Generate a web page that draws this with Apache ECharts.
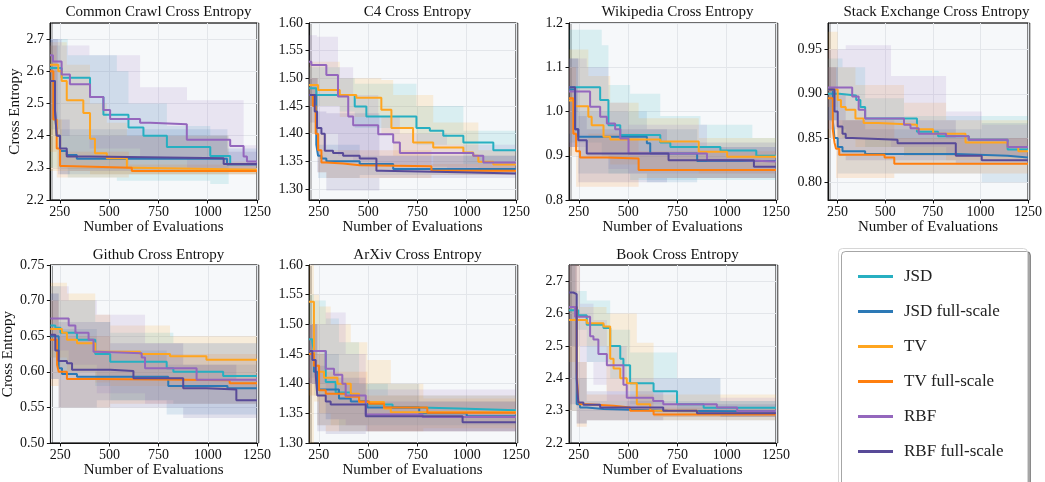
<!DOCTYPE html>
<html lang="en">
<head>
  <meta charset="UTF-8">
  <title>Cross Entropy vs Number of Evaluations</title>
  <script src="https://cdn.jsdelivr.net/npm/echarts@6/dist/echarts.min.js"></script>
  <style>
    html, body { margin: 0; background: #fff; }
    #main { width: 1045px; height: 482px; }
  </style>
</head>
<body>
<div id="main"></div>
<script>

  var methods = ['JSD', 'JSD full-scale', 'TV', 'TV full-scale', 'RBF', 'RBF full-scale'];
  var colors = ['#27afc1', '#2c79b6', '#ffa51f', '#ff7f0e', '#9467bd', '#584a98'];
  var panelTitles = ['Common Crawl Cross Entropy', 'C4 Cross Entropy', 'Wikipedia Cross Entropy',
    'Stack Exchange Cross Entropy', 'Github Cross Entropy', 'ArXiv Cross Entropy', 'Book Cross Entropy'];
  var xTicks = [250, 500, 750, 1000, 1250];
  var yMin = [2.2, 1.28, 0.8, 0.78, 0.5, 1.3, 2.2];
  var yMax = [2.75, 1.6, 1.2, 0.98, 0.75, 1.6, 2.75];
  var yTicks = [
    [2.2, 2.3, 2.4, 2.5, 2.6, 2.7],
    [1.30, 1.35, 1.40, 1.45, 1.50, 1.55, 1.60],
    [0.8, 0.9, 1.0, 1.1, 1.2],
    [0.80, 0.85, 0.90, 0.95],
    [0.50, 0.55, 0.60, 0.65, 0.70, 0.75],
    [1.30, 1.35, 1.40, 1.45, 1.50, 1.55, 1.60],
    [2.2, 2.3, 2.4, 2.5, 2.6, 2.7]
  ];
  var yDecimals = [1, 2, 1, 2, 2, 2, 1];

  // lines: [evaluations, mean], bands: [evaluations, low, high] (step-post)
  // Common Crawl
  var ccJSD = [[200, 2.61], [259, 2.58], [403, 2.52], [471, 2.465], [598, 2.425], [674, 2.40], [793, 2.365], [1013, 2.337], [1114, 2.312], [1250, 2.312]];
  var ccJSDfull = [[200, 2.57], [225, 2.48], [234, 2.40], [251, 2.352], [285, 2.34], [336, 2.328], [1098, 2.31], [1250, 2.31]];
  var ccTV = [[200, 2.62], [242, 2.60], [259, 2.57], [285, 2.51], [369, 2.47], [403, 2.39], [428, 2.345], [488, 2.33], [590, 2.30], [623, 2.294], [1250, 2.294]];
  var ccTVfull = [[200, 2.60], [217, 2.45], [234, 2.36], [251, 2.306], [268, 2.30], [615, 2.29], [1250, 2.29]];
  var ccRBF = [[200, 2.65], [215, 2.63], [259, 2.59], [301, 2.56], [403, 2.52], [471, 2.48], [505, 2.452], [657, 2.44], [708, 2.435], [894, 2.387], [1114, 2.368], [1182, 2.335], [1199, 2.32], [1250, 2.32]];
  var ccRBFfull = [[200, 2.57], [225, 2.48], [234, 2.40], [251, 2.36], [285, 2.335], [400, 2.33], [1081, 2.312], [1250, 2.312]];
  var ccJSDband = [[200, 2.30, 2.70], [290, 2.27, 2.65], [539, 2.26, 2.60], [598, 2.26, 2.50], [793, 2.26, 2.43], [1013, 2.25, 2.40], [1106, 2.25, 2.40]];
  var ccJSDfullBand = [[200, 2.42, 2.68], [251, 2.28, 2.42], [1100, 2.28, 2.36], [1250, 2.28, 2.36]];
  var ccTVband = [[200, 2.29, 2.69], [285, 2.29, 2.62], [403, 2.28, 2.50], [488, 2.28, 2.44], [590, 2.28, 2.40], [1106, 2.28, 2.32], [1250, 2.28, 2.32]];
  var ccTVfullBand = [[200, 2.35, 2.68], [234, 2.27, 2.45], [260, 2.27, 2.35], [600, 2.28, 2.31], [1250, 2.28, 2.31]];
  var ccRBFband = [[200, 2.45, 2.70], [260, 2.40, 2.68], [400, 2.36, 2.65], [657, 2.33, 2.55], [895, 2.30, 2.51], [1182, 2.30, 2.37], [1250, 2.30, 2.37]];
  var ccRBFfullBand = [[200, 2.45, 2.70], [240, 2.28, 2.45], [300, 2.29, 2.40], [1100, 2.29, 2.35], [1250, 2.29, 2.35]];

  // C4
  var c4JSD = [[200, 1.482], [237, 1.47], [432, 1.449], [491, 1.431], [745, 1.41], [813, 1.405], [881, 1.396], [983, 1.384], [1135, 1.37], [1250, 1.37]];
  var c4JSDfull = [[200, 1.47], [237, 1.38], [246, 1.36], [263, 1.355], [288, 1.35], [457, 1.345], [627, 1.336], [1250, 1.336]];
  var c4TV = [[200, 1.488], [246, 1.479], [356, 1.47], [440, 1.465], [567, 1.443], [618, 1.41], [728, 1.384], [830, 1.375], [983, 1.366], [1033, 1.36], [1059, 1.349], [1135, 1.344], [1250, 1.344]];
  var c4TVfull = [[200, 1.47], [220, 1.45], [234, 1.40], [246, 1.37], [263, 1.348], [288, 1.346], [373, 1.343], [457, 1.341], [821, 1.333], [1250, 1.333]];
  var c4RBF = [[200, 1.53], [212, 1.524], [288, 1.506], [347, 1.467], [399, 1.431], [424, 1.415], [551, 1.399], [627, 1.384], [661, 1.365], [1033, 1.36], [1084, 1.348], [1250, 1.348]];
  var c4RBFfull = [[200, 1.47], [229, 1.44], [241, 1.41], [263, 1.40], [280, 1.369], [322, 1.365], [373, 1.36], [457, 1.355], [542, 1.333], [567, 1.33], [965, 1.328], [1250, 1.328]];
  var c4JSDband = [[200, 1.45, 1.52], [356, 1.44, 1.50], [432, 1.41, 1.49], [745, 1.38, 1.45], [983, 1.345, 1.405], [1250, 1.345, 1.405]];
  var c4JSDfullBand = [[200, 1.40, 1.50], [246, 1.32, 1.38], [457, 1.325, 1.36], [1250, 1.325, 1.36]];
  var c4TVband = [[200, 1.45, 1.53], [356, 1.43, 1.50], [567, 1.40, 1.497], [627, 1.36, 1.47], [830, 1.34, 1.42], [1059, 1.33, 1.37], [1250, 1.33, 1.37]];
  var c4TVfullBand = [[200, 1.40, 1.50], [246, 1.33, 1.40], [288, 1.32, 1.37], [821, 1.325, 1.345], [1250, 1.325, 1.345]];
  var c4RBFband = [[200, 1.45, 1.578], [240, 1.40, 1.575], [347, 1.36, 1.52], [424, 1.35, 1.47], [551, 1.345, 1.43], [661, 1.34, 1.40], [900, 1.335, 1.38], [1250, 1.335, 1.38]];
  var c4RBFfullBand = [[200, 1.42, 1.50], [241, 1.33, 1.44], [288, 1.297, 1.437], [557, 1.32, 1.36], [1250, 1.32, 1.36]];

  // Wikipedia
  var wkJSD = [[200, 1.055], [358, 1.026], [400, 0.969], [460, 0.947], [663, 0.93], [714, 0.92], [968, 0.912], [1150, 0.90], [1250, 0.90]];
  var wkJSDfull = [[200, 1.05], [231, 0.96], [247, 0.943], [595, 0.928], [612, 0.905], [850, 0.888], [1250, 0.888]];
  var wkTV = [[200, 1.025], [231, 1.012], [298, 0.988], [315, 0.969], [375, 0.943], [409, 0.937], [663, 0.932], [858, 0.909], [1002, 0.898], [1250, 0.898]];
  var wkTVfull = [[200, 1.03], [222, 0.95], [236, 0.91], [256, 0.896], [392, 0.894], [553, 0.868], [1250, 0.868]];
  var wkRBF = [[200, 1.045], [307, 1.011], [358, 0.988], [392, 0.973], [434, 0.96], [460, 0.939], [502, 0.905], [900, 0.89], [1070, 0.887], [1250, 0.887]];
  var wkRBFfull = [[200, 1.055], [231, 0.96], [247, 0.935], [290, 0.905], [705, 0.89], [1138, 0.875], [1250, 0.875]];
  var wkJSDband = [[200, 0.93, 1.185], [366, 0.90, 1.15], [400, 0.86, 1.06], [510, 0.845, 1.04], [663, 0.845, 0.99], [867, 0.845, 0.97], [1130, 0.845, 0.94], [1250, 0.845, 0.94]];
  var wkJSDfullBand = [[200, 0.92, 1.12], [247, 0.86, 1.00], [595, 0.84, 0.96], [850, 0.85, 0.92], [1250, 0.85, 0.92]];
  var wkTVband = [[200, 0.95, 1.14], [298, 0.90, 1.08], [409, 0.88, 1.02], [553, 0.87, 0.985], [858, 0.86, 0.94], [1250, 0.86, 0.94]];
  var wkTVfullBand = [[200, 0.90, 1.10], [236, 0.83, 0.95], [553, 0.85, 0.91], [1250, 0.85, 0.91]];
  var wkRBFband = [[200, 0.92, 1.12], [290, 0.90, 1.10], [400, 0.87, 1.02], [502, 0.86, 0.97], [900, 0.86, 0.92], [1250, 0.86, 0.92]];
  var wkRBFfullBand = [[200, 0.92, 1.12], [247, 0.84, 0.99], [290, 0.84, 0.96], [697, 0.85, 0.93], [1250, 0.85, 0.93]];

  // Stack Exchange
  var seJSD = [[200, 0.90], [259, 0.898], [348, 0.893], [370, 0.885], [395, 0.872], [667, 0.857], [778, 0.852], [939, 0.848], [1143, 0.837], [1250, 0.837]];
  var seJSDfull = [[200, 0.905], [225, 0.87], [234, 0.85], [251, 0.84], [276, 0.835], [395, 0.832], [871, 0.83], [1143, 0.828], [1250, 0.828]];
  var seTV = [[200, 0.905], [251, 0.893], [268, 0.885], [293, 0.882], [344, 0.872], [387, 0.867], [463, 0.865], [667, 0.86], [752, 0.855], [922, 0.845], [1143, 0.84], [1199, 0.835], [1250, 0.835]];
  var seTVfull = [[200, 0.895], [225, 0.86], [234, 0.845], [242, 0.838], [259, 0.831], [497, 0.828], [548, 0.821], [1250, 0.821]];
  var seRBF = [[200, 0.907], [327, 0.897], [361, 0.882], [395, 0.872], [599, 0.865], [633, 0.861], [676, 0.855], [820, 0.852], [939, 0.848], [1143, 0.84], [1250, 0.84]];
  var seRBFfull = [[200, 0.905], [234, 0.88], [251, 0.863], [276, 0.855], [293, 0.85], [327, 0.848], [565, 0.844], [871, 0.83], [1007, 0.825], [1250, 0.825]];
  var seJSDband = [[200, 0.87, 0.94], [276, 0.85, 0.93], [395, 0.84, 0.895], [599, 0.83, 0.875], [1250, 0.83, 0.875]];
  var seJSDfullBand = [[200, 0.87, 0.93], [251, 0.81, 0.87], [395, 0.81, 0.86], [1007, 0.80, 0.867], [1250, 0.80, 0.867]];
  var seTVband = [[200, 0.885, 0.97], [251, 0.85, 0.93], [344, 0.84, 0.91], [599, 0.83, 0.89], [820, 0.825, 0.87], [1250, 0.825, 0.87]];
  var seTVfullBand = [[200, 0.85, 0.93], [242, 0.805, 0.87], [548, 0.81, 0.85], [1250, 0.81, 0.85]];
  var seRBFband = [[200, 0.86, 0.95], [293, 0.85, 0.955], [531, 0.84, 0.92], [820, 0.83, 0.88], [1007, 0.83, 0.865], [1250, 0.83, 0.865]];
  var seRBFfullBand = [[200, 0.87, 0.93], [251, 0.83, 0.90], [293, 0.825, 0.87], [871, 0.82, 0.85], [1250, 0.82, 0.85]];

  // Github
  var ghJSD = [[200, 0.665], [225, 0.662], [251, 0.655], [335, 0.645], [428, 0.625], [504, 0.614], [791, 0.605], [825, 0.60], [1078, 0.594], [1250, 0.594]];
  var ghJSDfull = [[200, 0.65], [242, 0.605], [259, 0.597], [335, 0.593], [799, 0.58], [1100, 0.577], [1250, 0.577]];
  var ghTV = [[200, 0.66], [259, 0.655], [284, 0.645], [335, 0.64], [428, 0.628], [656, 0.625], [808, 0.622], [993, 0.617], [1250, 0.617]];
  var ghTVfull = [[200, 0.645], [234, 0.61], [242, 0.60], [284, 0.59], [453, 0.589], [875, 0.588], [1111, 0.584], [1250, 0.584]];
  var ghRBF = [[200, 0.675], [293, 0.665], [327, 0.655], [394, 0.645], [419, 0.628], [436, 0.626], [664, 0.62], [681, 0.605], [943, 0.589], [1250, 0.589]];
  var ghRBFfull = [[200, 0.652], [225, 0.63], [242, 0.615], [284, 0.612], [310, 0.603], [504, 0.601], [622, 0.591], [875, 0.577], [993, 0.575], [1145, 0.56], [1250, 0.56]];
  var ghJSDband = [[200, 0.62, 0.72], [251, 0.60, 0.70], [428, 0.58, 0.67], [504, 0.56, 0.655], [825, 0.555, 0.64], [1250, 0.555, 0.64]];
  var ghJSDfullBand = [[200, 0.59, 0.71], [242, 0.55, 0.66], [436, 0.56, 0.63], [791, 0.54, 0.61], [1250, 0.54, 0.61]];
  var ghTVband = [[200, 0.62, 0.725], [284, 0.60, 0.71], [428, 0.585, 0.68], [504, 0.58, 0.665], [808, 0.575, 0.65], [1250, 0.575, 0.65]];
  var ghTVfullBand = [[200, 0.58, 0.70], [242, 0.55, 0.65], [504, 0.555, 0.625], [1250, 0.555, 0.625]];
  var ghRBFband = [[200, 0.63, 0.72], [293, 0.61, 0.70], [436, 0.57, 0.68], [681, 0.555, 0.64], [1250, 0.555, 0.64]];
  var ghRBFfullBand = [[200, 0.59, 0.71], [242, 0.55, 0.67], [504, 0.55, 0.64], [875, 0.535, 0.61], [1145, 0.535, 0.59], [1250, 0.535, 0.59]];

  // ArXiv
  var axJSD = [[200, 1.475], [217, 1.47], [225, 1.455], [285, 1.403], [335, 1.385], [412, 1.38], [454, 1.37], [505, 1.365], [624, 1.36], [759, 1.358], [962, 1.355], [1250, 1.355]];
  var axJSDfull = [[200, 1.455], [225, 1.42], [242, 1.39], [352, 1.375], [412, 1.37], [496, 1.36], [759, 1.35], [1000, 1.345], [1250, 1.345]];
  var axTV = [[200, 1.538], [225, 1.43], [251, 1.42], [276, 1.41], [344, 1.40], [412, 1.383], [454, 1.369], [581, 1.358], [615, 1.352], [1250, 1.352]];
  var axTVfull = [[200, 1.45], [225, 1.43], [251, 1.389], [285, 1.383], [386, 1.378], [454, 1.37], [505, 1.366], [581, 1.36], [800, 1.351], [1250, 1.351]];
  var axRBF = [[200, 1.455], [285, 1.425], [327, 1.415], [369, 1.40], [386, 1.38], [488, 1.348], [776, 1.344], [1250, 1.344]];
  var axRBFfull = [[200, 1.455], [217, 1.44], [234, 1.415], [242, 1.38], [285, 1.37], [310, 1.365], [488, 1.345], [979, 1.335], [1250, 1.335]];
  var axJSDband = [[200, 1.41, 1.55], [225, 1.38, 1.54], [285, 1.34, 1.51], [352, 1.33, 1.47], [454, 1.33, 1.40], [600, 1.33, 1.38], [1250, 1.33, 1.38]];
  var axJSDfullBand = [[200, 1.40, 1.50], [242, 1.33, 1.45], [352, 1.32, 1.40], [759, 1.32, 1.37], [1250, 1.32, 1.37]];
  var axTVband = [[200, 1.30, 1.60], [225, 1.37, 1.55], [251, 1.35, 1.53], [310, 1.33, 1.50], [412, 1.33, 1.47], [496, 1.32, 1.44], [615, 1.32, 1.40], [780, 1.325, 1.375], [1250, 1.325, 1.375]];
  var axTVfullBand = [[200, 1.38, 1.50], [242, 1.33, 1.45], [285, 1.32, 1.42], [496, 1.32, 1.38], [1250, 1.32, 1.38]];
  var axRBFband = [[200, 1.40, 1.50], [285, 1.34, 1.52], [386, 1.33, 1.45], [488, 1.32, 1.39], [1250, 1.32, 1.39]];
  var axRBFfullBand = [[200, 1.40, 1.50], [242, 1.32, 1.43], [285, 1.315, 1.41], [488, 1.32, 1.37], [1250, 1.32, 1.37]];

  // Book
  var bkJSD = [[200, 2.61], [247, 2.595], [290, 2.565], [375, 2.555], [409, 2.50], [460, 2.46], [476, 2.44], [510, 2.385], [629, 2.36], [748, 2.32], [883, 2.309], [1250, 2.309]];
  var bkJSDfull = [[200, 2.62], [239, 2.32], [256, 2.31], [290, 2.305], [375, 2.30], [700, 2.297], [1250, 2.297]];
  var bkTV = [[200, 2.58], [290, 2.57], [375, 2.56], [409, 2.46], [426, 2.43], [460, 2.40], [493, 2.385], [544, 2.32], [612, 2.30], [850, 2.29], [1250, 2.29]];
  var bkTVfull = [[200, 2.62], [239, 2.42], [247, 2.33], [256, 2.32], [290, 2.315], [426, 2.31], [510, 2.30], [629, 2.288], [1250, 2.288]];
  var bkRBF = [[200, 2.62], [231, 2.59], [307, 2.53], [324, 2.52], [349, 2.475], [392, 2.44], [476, 2.38], [493, 2.34], [627, 2.33], [678, 2.32], [950, 2.31], [1053, 2.298], [1250, 2.298]];
  var bkRBFfull = [[200, 2.665], [222, 2.66], [239, 2.40], [247, 2.325], [273, 2.318], [358, 2.31], [678, 2.30], [849, 2.292], [1250, 2.292]];
  var bkJSDband = [[200, 2.50, 2.75], [231, 2.55, 2.67], [290, 2.45, 2.64], [409, 2.40, 2.55], [510, 2.32, 2.48], [748, 2.29, 2.40], [968, 2.28, 2.33], [1250, 2.28, 2.33]];
  var bkJSDfullBand = [[200, 2.30, 2.75], [239, 2.26, 2.40], [290, 2.27, 2.33], [1250, 2.27, 2.33]];
  var bkTVband = [[200, 2.45, 2.75], [256, 2.50, 2.62], [390, 2.36, 2.60], [544, 2.30, 2.51], [629, 2.28, 2.35], [1250, 2.28, 2.35]];
  var bkTVfullBand = [[200, 2.30, 2.75], [239, 2.25, 2.45], [290, 2.27, 2.35], [629, 2.27, 2.31], [1250, 2.27, 2.31]];
  var bkRBFband = [[200, 2.50, 2.75], [256, 2.45, 2.63], [324, 2.38, 2.58], [392, 2.33, 2.50], [493, 2.30, 2.40], [968, 2.28, 2.34], [1250, 2.28, 2.34]];
  var bkRBFfullBand = [[200, 2.32, 2.75], [239, 2.26, 2.45], [290, 2.27, 2.36], [678, 2.28, 2.32], [1250, 2.28, 2.32]];

  var panelLines = [
    [ccJSD, ccJSDfull, ccTV, ccTVfull, ccRBF, ccRBFfull],
    [c4JSD, c4JSDfull, c4TV, c4TVfull, c4RBF, c4RBFfull],
    [wkJSD, wkJSDfull, wkTV, wkTVfull, wkRBF, wkRBFfull],
    [seJSD, seJSDfull, seTV, seTVfull, seRBF, seRBFfull],
    [ghJSD, ghJSDfull, ghTV, ghTVfull, ghRBF, ghRBFfull],
    [axJSD, axJSDfull, axTV, axTVfull, axRBF, axRBFfull],
    [bkJSD, bkJSDfull, bkTV, bkTVfull, bkRBF, bkRBFfull]
  ];
  var panelBands = [
    [ccJSDband, ccJSDfullBand, ccTVband, ccTVfullBand, ccRBFband, ccRBFfullBand],
    [c4JSDband, c4JSDfullBand, c4TVband, c4TVfullBand, c4RBFband, c4RBFfullBand],
    [wkJSDband, wkJSDfullBand, wkTVband, wkTVfullBand, wkRBFband, wkRBFfullBand],
    [seJSDband, seJSDfullBand, seTVband, seTVfullBand, seRBFband, seRBFfullBand],
    [ghJSDband, ghJSDfullBand, ghTVband, ghTVfullBand, ghRBFband, ghRBFfullBand],
    [axJSDband, axJSDfullBand, axTVband, axTVfullBand, axRBFband, axRBFfullBand],
    [bkJSDband, bkJSDfullBand, bkTVband, bkTVfullBand, bkRBFband, bkRBFfullBand]
  ];

  var chartDom = document.getElementById('main');
  var myChart = echarts.init(chartDom);
  var serif = '"Liberation Serif", "DejaVu Serif", serif';
  var colLeft = [50, 309, 569, 828];

  // shaded min/max region drawn as one step polygon
  function bandRenderer(band, color) {
    return function (params, api) {
      if (params.dataIndex !== 0) return null;
      var pts = [], i;
      for (i = 0; i < band.length - 1; i++) {
        pts.push(api.coord([band[i][0], band[i][2]]));
        pts.push(api.coord([band[i + 1][0], band[i][2]]));
      }
      for (i = band.length - 2; i >= 0; i--) {
        pts.push(api.coord([band[i + 1][0], band[i][1]]));
        pts.push(api.coord([band[i][0], band[i][1]]));
      }
      return {
        type: 'polygon',
        shape: {points: pts},
        style: {fill: echarts.color.modifyAlpha(color, 0.14)}
      };
    };
  }

  var grids = [], xAxes = [], yAxes = [], titles = [], series = [];
  panelTitles.forEach(function (name, p) {
    var left = colLeft[p % 4];
    var top = p < 4 ? 23 : 265;
    grids.push({
      left: left, top: top, width: 207, height: p < 4 ? 177 : 178,
      show: true, backgroundColor: '#f6f8fa', borderColor: '#111', borderWidth: 1,
      shadowColor: 'rgba(0,0,0,0.45)', shadowOffsetX: 2, shadowBlur: 0
    });
    titles.push({
      text: name, left: left + 103.5, top: p < 4 ? 0 : 243, textAlign: 'center',
      textStyle: {fontFamily: serif, fontSize: 15, fontWeight: 'normal', color: '#111'}
    });
    xAxes.push({
      type: 'value', gridIndex: p, min: 200, max: 1250,
      name: 'Number of Evaluations', nameLocation: 'middle', nameGap: p < 4 ? 14 : 12,
      nameTextStyle: {fontFamily: serif, fontSize: 15, color: '#111'},
      axisLine: {lineStyle: {color: '#111', width: 1}},
      axisTick: {customValues: xTicks, length: 3.5, lineStyle: {color: '#111'}},
      axisLabel: {
        customValues: xTicks, margin: 5, fontFamily: serif, fontSize: 14, color: '#111',
        formatter: function (v) { return String(v); }
      },
      splitLine: {show: true, lineStyle: {color: '#e3e6ea', width: 1}}
    });
    var dec = yDecimals[p];
    yAxes.push({
      type: 'value', gridIndex: p, min: yMin[p], max: yMax[p],
      name: (p === 0 || p === 4) ? 'Cross Entropy' : '',
      nameLocation: 'middle', nameGap: p === 0 ? 20 : 27,
      nameTextStyle: {fontFamily: serif, fontSize: 15, color: '#111'},
      axisLine: {show: true, lineStyle: {color: '#111', width: 1}},
      axisTick: {show: true, customValues: yTicks[p], length: 3.5, lineStyle: {color: '#111'}},
      axisLabel: {
        customValues: yTicks[p], margin: 6, fontFamily: serif, fontSize: 14, color: '#111',
        formatter: function (v) { return v.toFixed(dec); }
      },
      splitLine: {show: true, lineStyle: {color: '#e3e6ea', width: 1}}
    });
    methods.forEach(function (m, k) {
      series.push({
        type: 'custom', xAxisIndex: p, yAxisIndex: p, silent: true, z: 2,
        data: panelBands[p][k],
        renderItem: bandRenderer(panelBands[p][k], colors[k])
      });
    });
    methods.forEach(function (m, k) {
      series.push({
        type: 'line', name: m, xAxisIndex: p, yAxisIndex: p, z: 3,
        step: 'end', showSymbol: false, symbol: 'none', silent: true,
        data: panelLines[p][k],
        itemStyle: {color: colors[k]},
        lineStyle: {color: colors[k], width: 2}
      });
    });
  });

  var option = {
    animation: false,
    title: titles,
    grid: grids,
    xAxis: xAxes,
    yAxis: yAxes,
    // legend frame runs past the bottom edge of the figure
    graphic: [{
      type: 'rect', left: 838, top: 248, z: 0,
      shape: {width: 189, height: 260, r: 4},
      style: {fill: '#fff', stroke: '#d6d6d6', lineWidth: 1,
        shadowColor: 'rgba(0,0,0,0.35)', shadowOffsetX: 3, shadowOffsetY: 3, shadowBlur: 0}
    }],
    legend: {
      data: methods, orient: 'vertical', left: 838, top: 248, z: 5,
      icon: 'rect', itemWidth: 35, itemHeight: 3, itemGap: 18,
      padding: [20, 22, 4, 20],
      textStyle: {fontFamily: serif, fontSize: 17, color: '#222', padding: [0, 0, 0, 6]}
    },
    series: series
  };
  myChart.setOption(option);

</script>
</body>
</html>
